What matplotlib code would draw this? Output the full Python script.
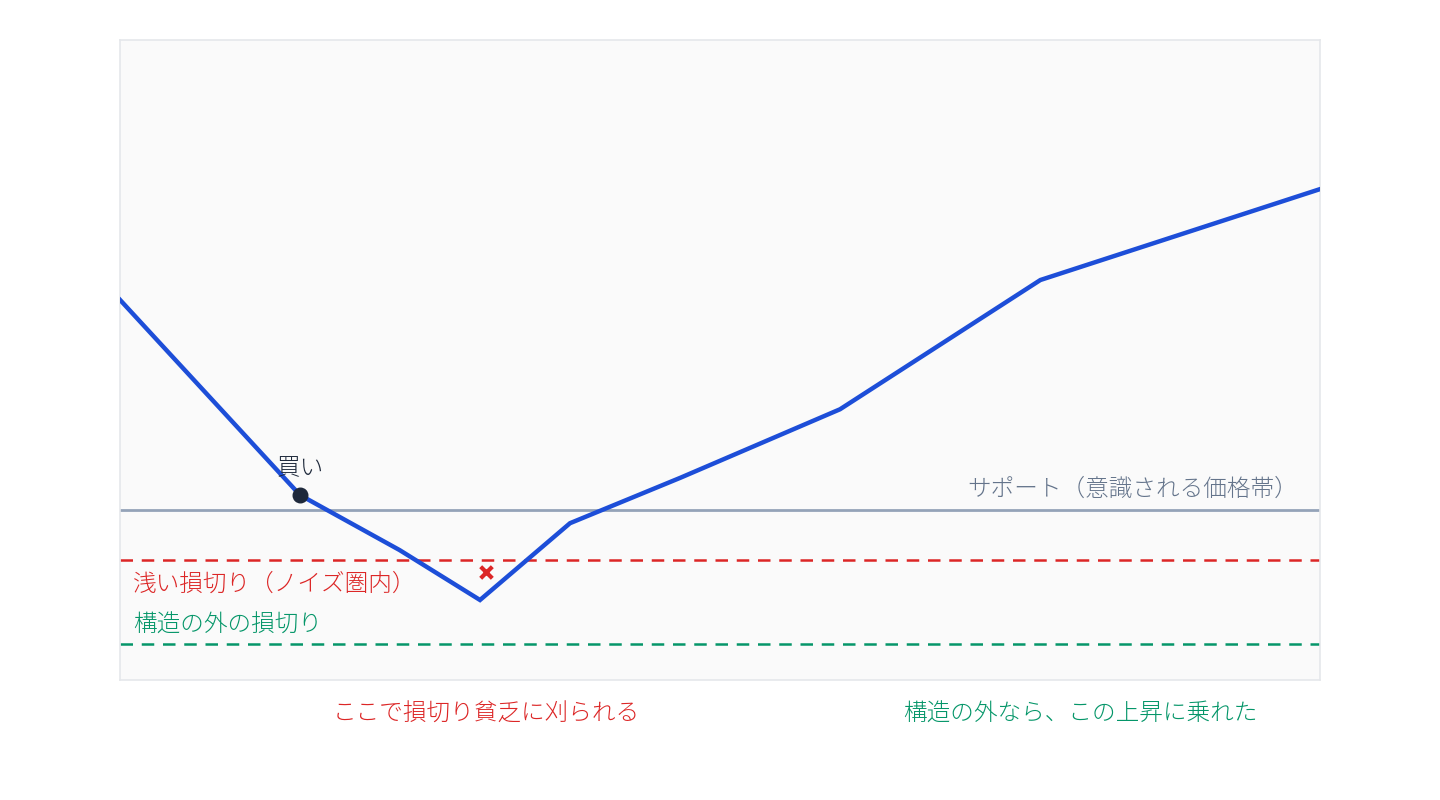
import matplotlib
matplotlib.use("Agg")
import matplotlib.pyplot as plt

plt.rcParams['font.family'] = ['Noto Sans CJK JP', 'DejaVu Sans']

# 価格の推移（横軸 0-100, 縦軸 0-100 の相対値）
xs = [0, 15, 23.3, 30, 37.5, 46.7, 60, 76.7, 100]
prices = [59.4, 28.9, 20.3, 12.5, 24.5, 31.6, 42.3, 62.5, 76.7]

support = 26.6
shallow_stop = 18.75
structural_stop = 5.6

buy_x, buy_y = 15, 28.9
hit_x, hit_y = 30.5, 16.9

BLUE = '#1d4ed8'
RED = '#dc2626'
GREEN = '#059669'
SLATE = '#94a3b8'

fig = plt.figure(figsize=(14.4, 8), dpi=100)
ax = fig.add_axes([120 / 1440, 120 / 800, 1200 / 1440, 640 / 800])
ax.set_facecolor('#fafafa')
for s in ax.spines.values():
    s.set_color('#e5e7eb')
    s.set_linewidth(1.2)
ax.set_xticks([])
ax.set_yticks([])
ax.set_xlim(0, 100)
ax.set_ylim(0, 100)

ax.axhline(support, color=SLATE, lw=2.0, zorder=2)
ax.axhline(shallow_stop, color=RED, lw=1.8, ls=(0, (5, 3.5)), zorder=2)
ax.axhline(structural_stop, color=GREEN, lw=1.8, ls=(0, (5, 3.5)), zorder=2)

ax.plot(xs, prices, color=BLUE, lw=3.2, solid_joinstyle='miter', zorder=3)
ax.scatter([buy_x], [buy_y], s=110, color='#1e293b', zorder=4)
ax.scatter([hit_x], [hit_y], s=70, marker='x', color=RED, linewidths=3, zorder=4)

fs = 17
ax.text(buy_x, 33.0, '買い', ha='center', va='center', fontsize=fs,
        color='#1e293b', fontweight='light')
ax.text(98.2, 29.8, 'サポート（意識される価格帯）', ha='right', va='center',
        fontsize=fs, color='#64748b', fontweight='light')
ax.text(1.1, 14.9, '浅い損切り（ノイズ圏内）', ha='left', va='center',
        fontsize=fs, color=RED, fontweight='light')
ax.text(1.1, 8.6, '構造の外の損切り', ha='left', va='center',
        fontsize=fs, color=GREEN, fontweight='light')

ax.text(30.5, -5.3, 'ここで損切り貧乏に刈られる', ha='center', va='center',
        fontsize=fs, color=RED, fontweight='light', clip_on=False)
ax.text(80, -5.3, '構造の外なら、この上昇に乗れた', ha='center', va='center',
        fontsize=fs, color=GREEN, fontweight='light', clip_on=False)

fig.savefig('out.png', dpi=100, facecolor='white')
